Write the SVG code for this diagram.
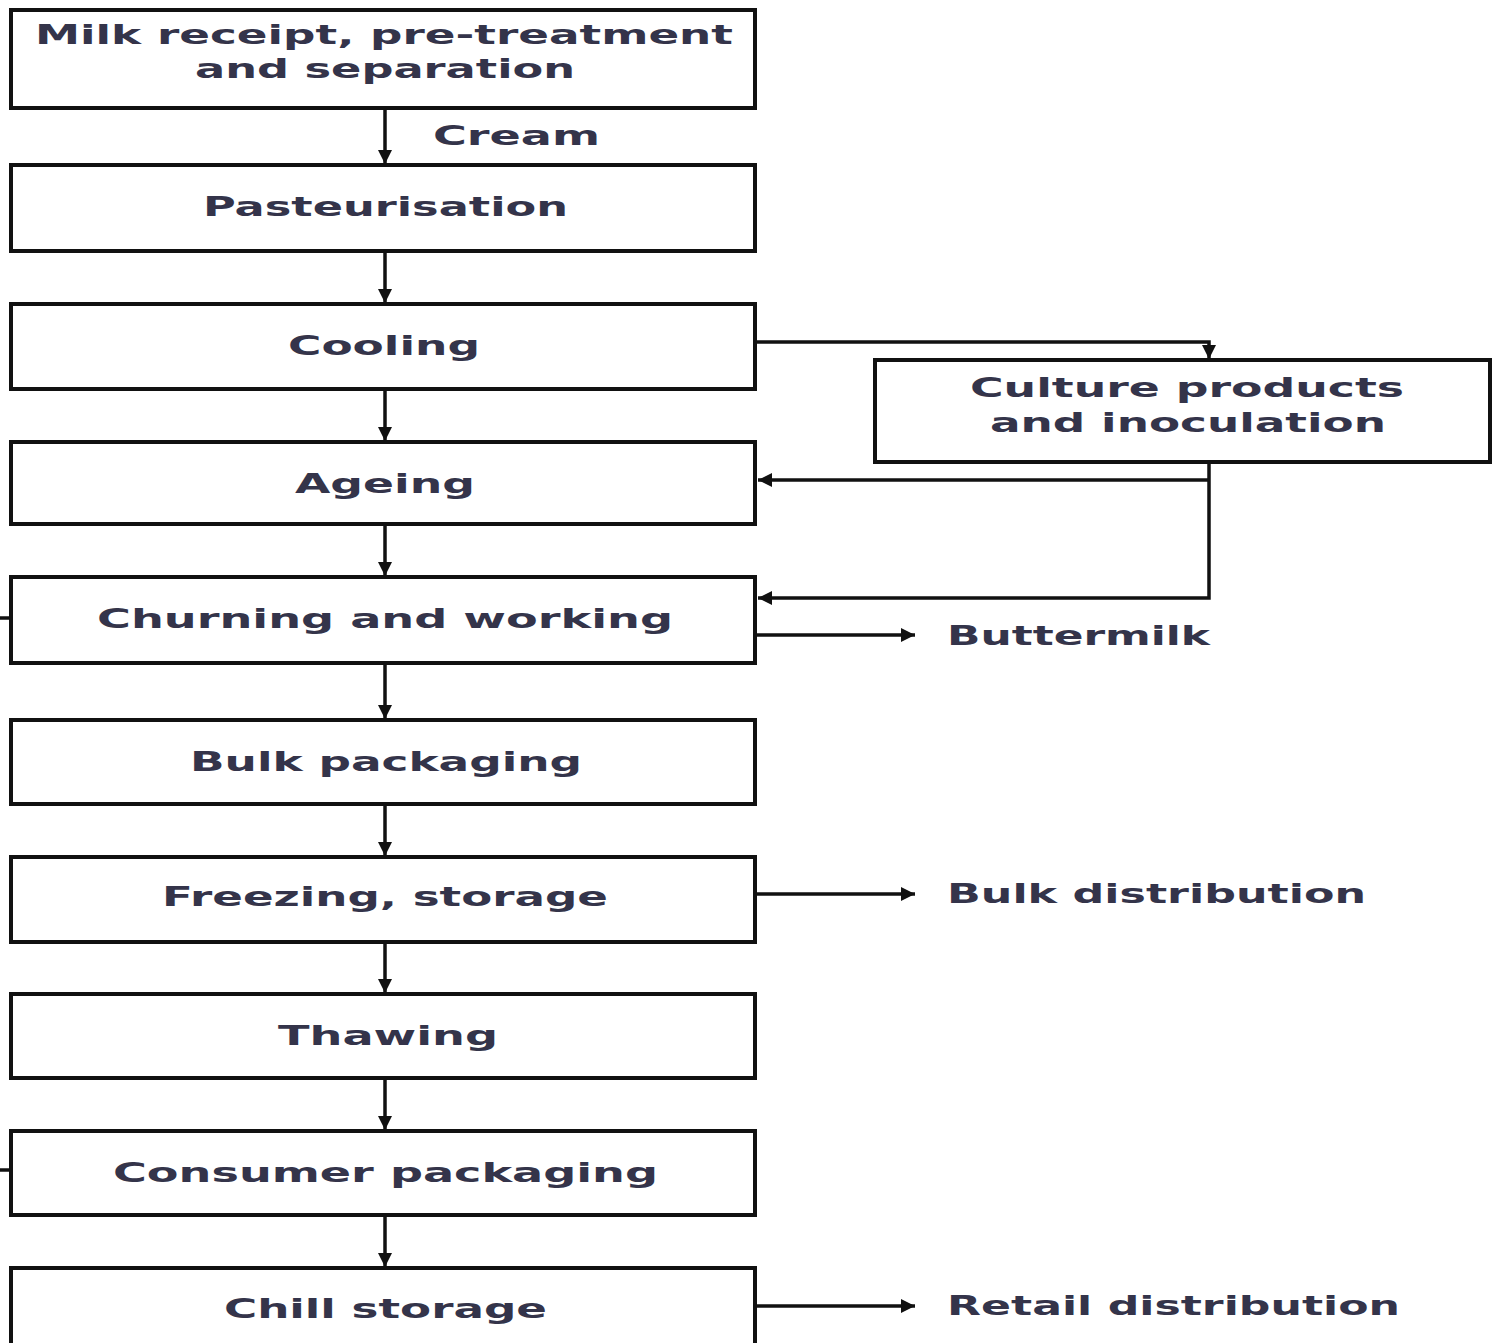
<svg xmlns="http://www.w3.org/2000/svg" width="1492" height="1343" viewBox="0 0 1492 1343">
  <style>
    .box { fill: #ffffff; stroke: #111111; stroke-width: 4; }
    .lbl { font-family: "DejaVu Sans", "Liberation Sans", sans-serif; font-weight: bold; font-size: 27px; fill: #34344a; }
    .wire { fill: none; stroke: #111111; stroke-width: 3.5; }
  </style>
  <defs>
    <marker id="arrow" viewBox="0 0 10 10" refX="10" refY="5" markerWidth="14" markerHeight="16" markerUnits="userSpaceOnUse" orient="auto">
      <path d="M0,0 L10,5 L0,10 z" fill="#111111"/>
    </marker>
  </defs>
  <rect width="1492" height="1343" fill="#ffffff"/>

  <!-- connectors -->
  <g id="connectors">
    <path class="wire" marker-end="url(#arrow)" d="M385,108 V164"/>
    <path class="wire" marker-end="url(#arrow)" d="M385,251 V303"/>
    <path class="wire" marker-end="url(#arrow)" d="M385,389 V441"/>
    <path class="wire" marker-end="url(#arrow)" d="M385,524 V576"/>
    <path class="wire" marker-end="url(#arrow)" d="M385,663 V719"/>
    <path class="wire" marker-end="url(#arrow)" d="M385,804 V856"/>
    <path class="wire" marker-end="url(#arrow)" d="M385,942 V993"/>
    <path class="wire" marker-end="url(#arrow)" d="M385,1078 V1130"/>
    <path class="wire" marker-end="url(#arrow)" d="M385,1215 V1267"/>
    <path class="wire" marker-end="url(#arrow)" d="M755,342 H1209 V359"/>
    <path class="wire" marker-end="url(#arrow)" d="M1209,462 V598 H758"/>
    <path class="wire" marker-end="url(#arrow)" d="M1209,480 H758"/>
    <path class="wire" marker-end="url(#arrow)" d="M755,635 H915"/>
    <path class="wire" marker-end="url(#arrow)" d="M755,894 H915"/>
    <path class="wire" marker-end="url(#arrow)" d="M755,1306 H915"/>
    <path class="wire" d="M0,618 H11"/>
    <path class="wire" d="M0,1170 H11"/>
  </g>

  <!-- process steps -->
  <g id="milk-receipt">
    <rect class="box" x="11" y="10" width="744" height="98"/>
    <text class="lbl" x="35" y="44" textLength="698" lengthAdjust="spacingAndGlyphs">Milk receipt, pre-treatment</text>
    <text class="lbl" x="195" y="78" textLength="380" lengthAdjust="spacingAndGlyphs">and separation</text>
  </g>
  <g id="cream-label">
    <text class="lbl" x="433" y="145" textLength="167" lengthAdjust="spacingAndGlyphs">Cream</text>
  </g>
  <g id="pasteurisation">
    <rect class="box" x="11" y="165" width="744" height="86"/>
    <text class="lbl" x="203" y="216" textLength="365" lengthAdjust="spacingAndGlyphs">Pasteurisation</text>
  </g>
  <g id="cooling">
    <rect class="box" x="11" y="304" width="744" height="85"/>
    <text class="lbl" x="288" y="355" textLength="192" lengthAdjust="spacingAndGlyphs">Cooling</text>
  </g>
  <g id="culture">
    <rect class="box" x="875" y="360" width="615" height="102"/>
    <text class="lbl" x="970" y="397" textLength="434" lengthAdjust="spacingAndGlyphs">Culture products</text>
    <text class="lbl" x="990" y="432" textLength="396" lengthAdjust="spacingAndGlyphs">and inoculation</text>
  </g>
  <g id="ageing">
    <rect class="box" x="11" y="442" width="744" height="82"/>
    <text class="lbl" x="295" y="493" textLength="180" lengthAdjust="spacingAndGlyphs">Ageing</text>
  </g>
  <g id="churning">
    <rect class="box" x="11" y="577" width="744" height="86"/>
    <text class="lbl" x="97" y="628" textLength="576" lengthAdjust="spacingAndGlyphs">Churning and working</text>
  </g>
  <g id="buttermilk">
    <text class="lbl" x="947" y="645" textLength="263" lengthAdjust="spacingAndGlyphs">Buttermilk</text>
  </g>
  <g id="bulk-packaging">
    <rect class="box" x="11" y="720" width="744" height="84"/>
    <text class="lbl" x="190" y="771" textLength="392" lengthAdjust="spacingAndGlyphs">Bulk packaging</text>
  </g>
  <g id="freezing">
    <rect class="box" x="11" y="857" width="744" height="85"/>
    <text class="lbl" x="162" y="906" textLength="446" lengthAdjust="spacingAndGlyphs">Freezing, storage</text>
  </g>
  <g id="bulk-distribution">
    <text class="lbl" x="947" y="903" textLength="419" lengthAdjust="spacingAndGlyphs">Bulk distribution</text>
  </g>
  <g id="thawing">
    <rect class="box" x="11" y="994" width="744" height="84"/>
    <text class="lbl" x="278" y="1045" textLength="220" lengthAdjust="spacingAndGlyphs">Thawing</text>
  </g>
  <g id="consumer-packaging">
    <rect class="box" x="11" y="1131" width="744" height="84"/>
    <text class="lbl" x="113" y="1182" textLength="545" lengthAdjust="spacingAndGlyphs">Consumer packaging</text>
  </g>
  <g id="chill-storage">
    <rect class="box" x="11" y="1268" width="744" height="100"/>
    <text class="lbl" x="224" y="1318" textLength="323" lengthAdjust="spacingAndGlyphs">Chill storage</text>
  </g>
  <g id="retail-distribution">
    <text class="lbl" x="947" y="1315" textLength="453" lengthAdjust="spacingAndGlyphs">Retail distribution</text>
  </g>
</svg>
